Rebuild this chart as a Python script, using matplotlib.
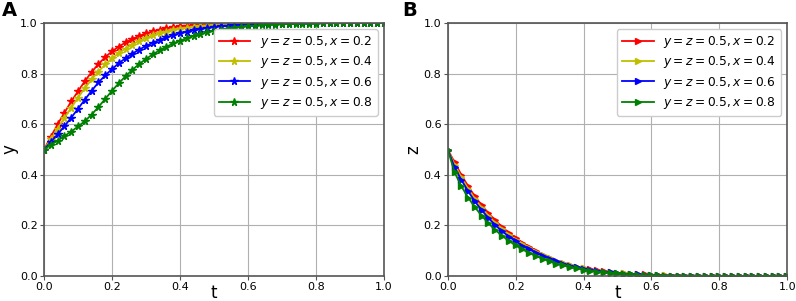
import numpy as np
import matplotlib
matplotlib.use('Agg')
from matplotlib import pyplot as plt

# time grid, step 0.02
t = [round(0.02 * i, 2) for i in range(51)]

labels = [r'$y=z=0.5, x=0.2$', r'$y=z=0.5, x=0.4$',
          r'$y=z=0.5, x=0.6$', r'$y=z=0.5, x=0.8$']
colors = ['r', 'y', 'b', 'g']

# panel A : y(t)
y_x02 = [.500, .550, .600, .645, .690, .730, .770, .806, .838, .865,
         .888, .907, .923, .937, .949, .959, .967, .974, .979, .984,
         .987, .990, .992, .994, .995, .996, .997, .998, .998, .999,
         .999] + [1.0] * 20
y_x04 = [.500, .540, .583, .625, .665, .705, .742, .777, .808, .836,
         .860, .881, .899, .915, .929, .941, .951, .959, .966, .972,
         .977, .981, .985, .988, .990, .992, .994, .995, .996, .997,
         .998, .998, .999, .999, .999] + [1.0] * 16
y_x06 = [.500, .530, .560, .592, .626, .661, .697, .732, .765, .793,
         .818, .841, .861, .879, .895, .909, .922, .933, .943, .952,
         .960, .966, .972, .977, .981, .984, .987, .989, .991, .993,
         .994, .995, .996, .997, .997, .998, .998, .999, .999, .999] + [1.0] * 11
y_x08 = [.500, .518, .535, .553, .571, .591, .612, .638, .668, .700,
         .732, .762, .790, .815, .838, .858, .876, .892, .906, .919,
         .930, .940, .949, .957, .963, .969, .974, .978, .982, .985,
         .987, .989, .991, .993, .994, .995, .996, .997, .997, .998,
         .998, .999, .999, .999, .999] + [1.0] * 6

# panel B : z(t)
z_x02 = [.500, .450, .400, .355, .315, .280, .248, .220, .194, .171,
         .150, .131, .114, .099, .085, .072, .061, .052, .044, .037,
         .031, .026, .022, .018, .015, .012, .010, .008, .007, .006,
         .005, .004, .003, .002, .002, .001, .001, .001] + [0.0] * 13
z_x04 = [.500, .440, .390, .345, .305, .270, .238, .210, .185, .163,
         .143, .125, .109, .095, .082, .070, .059, .050, .042, .036,
         .030, .025, .021, .017, .014, .012, .010, .008, .006, .005,
         .004, .003, .003, .002, .002, .001, .001, .001] + [0.0] * 13
z_x06 = [.500, .430, .380, .335, .295, .260, .229, .201, .177, .156,
         .137, .120, .105, .092, .079, .068, .058, .049, .041, .035,
         .029, .024, .020, .017, .014, .011, .009, .007, .006, .005,
         .004, .003, .002, .002, .001, .001, .001, .001] + [0.0] * 13
z_x08 = [.500, .410, .355, .310, .272, .238, .208, .182, .159, .139,
         .121, .105, .091, .079, .068, .058, .049, .042, .035, .030,
         .025, .021, .017, .014, .012, .010, .008, .006, .005, .004,
         .003, .003, .002, .002, .001, .001, .001, .001] + [0.0] * 13

fig = plt.figure(figsize=(7.96, 3.01), dpi=100)
axA = fig.add_axes([0.0553, 0.083, 0.4271, 0.8406])
axB = fig.add_axes([0.5625, 0.083, 0.4265, 0.8406])


def style(ax, ylab):
    ax.set_xlim(0, 1)
    ax.set_ylim(0, 1)
    ax.set_xticks(np.arange(0, 1.01, 0.2))
    ax.set_yticks(np.arange(0, 1.01, 0.2))
    ax.grid(True, color='#b0b0b0', lw=0.8)
    ax.set_axisbelow(True)
    for s in ax.spines.values():
        s.set_color('#555555')
        s.set_linewidth(1.2)
    ax.tick_params(labelsize=8, color='#555555', length=3, pad=1.5)
    ax.set_xlabel('t', fontsize=12)
    ax.xaxis.set_label_coords(0.5, -0.03)
    ax.set_ylabel(ylab, fontsize=12)
    ax.yaxis.set_label_coords(-0.075, 0.5)
    ax.legend(loc='upper right', fontsize=8.8, handlelength=2.6,
              borderaxespad=0.5, labelspacing=0.35, framealpha=1,
              edgecolor='#cccccc', fancybox=True, borderpad=0.4)


for ys, c, lab in zip([y_x02, y_x04, y_x06, y_x08], colors, labels):
    axA.plot(t, ys, c=c, marker='*', ms=5.5, lw=1.3, label=lab)
style(axA, 'y')

for zs, c, lab in zip([z_x02, z_x04, z_x06, z_x08], colors, labels):
    axB.plot(t, zs, c=c, marker='>', ms=5, lw=1.3, label=lab)
style(axB, 'z')

fig.text(0.002, 0.998, 'A', fontsize=14, fontweight='bold', va='top', ha='left')
fig.text(0.505, 0.998, 'B', fontsize=14, fontweight='bold', va='top', ha='left')

fig.savefig('out.png', dpi=100)
